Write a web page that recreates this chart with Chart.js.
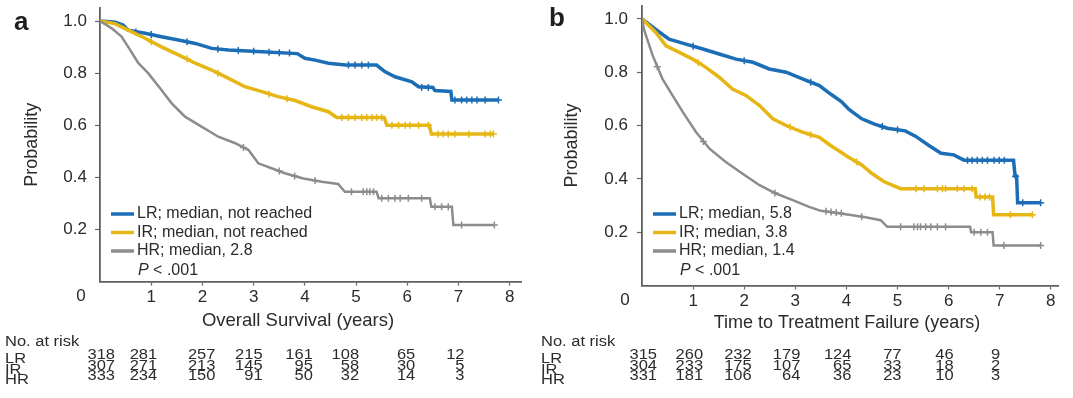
<!DOCTYPE html>
<html lang="en">
<head>
<meta charset="UTF-8">
<title>Kaplan-Meier by risk group</title>
<script src="https://cdn.jsdelivr.net/npm/chart.js@4.4.0/dist/chart.umd.min.js"></script>
<style>
  html, body { margin: 0; padding: 0; background: #fff; }
  .wrap { position: relative; width: 1073px; height: 398px; overflow: hidden; }
  canvas { position: absolute; top: 0; }
  #os { left: 0; }
  #ttf { left: 536px; }
</style>
</head>
<body>
<div class="wrap">
  <canvas id="os" width="536" height="398"></canvas>
  <canvas id="ttf" width="537" height="398"></canvas>
</div>
<script>
// ---- data: [years, probability] ----
const groups = ['LR', 'IR', 'HR'];
const xTicks = [1, 2, 3, 4, 5, 6, 7, 8];
const yTicks = [0.2, 0.4, 0.6, 0.8, 1.0];
const riskTimes = [0, 1, 2, 3, 4, 5, 6, 7];

// a: overall survival
const osLabels = ['LR; median, not reached', 'IR; median, not reached', 'HR; median, 2.8'];
const osLR = [[0,1],[0.3,0.995],[0.45,0.985],[0.55,0.965],[0.88,0.953],[1.2,0.94],[1.53,0.927],[1.86,0.914],[2.18,0.895],[2.51,0.889],[3.16,0.882],[3.85,0.875],[4.0,0.857],[4.2,0.85],[4.46,0.838],[4.79,0.831],[5.4,0.831],[5.56,0.806],[5.76,0.786],[6.09,0.767],[6.22,0.748],[6.5,0.745],[6.54,0.733],[6.85,0.73],[6.87,0.697],[7.78,0.697]];
const osIR = [[0,1],[0.29,0.99],[0.55,0.965],[0.88,0.934],[1.2,0.901],[1.53,0.87],[1.86,0.838],[2.18,0.812],[2.51,0.78],[2.83,0.748],[3.16,0.729],[3.48,0.71],[3.81,0.695],[4.13,0.671],[4.46,0.652],[4.62,0.63],[5.55,0.63],[5.6,0.6],[6.43,0.6],[6.47,0.566],[7.68,0.566]];
const osHR = [[0,1],[0.23,0.972],[0.42,0.94],[0.55,0.901],[0.75,0.838],[0.94,0.8],[1.2,0.735],[1.4,0.684],[1.66,0.633],[1.99,0.594],[2.31,0.556],[2.64,0.531],[2.9,0.505],[3.09,0.454],[3.35,0.435],[3.61,0.416],[3.97,0.396],[4.33,0.383],[4.65,0.375],[4.78,0.345],[5.4,0.345],[5.44,0.32],[6.44,0.32],[6.47,0.287],[6.87,0.287],[6.9,0.217],[7.7,0.217]];
const osLRcens = [[0.7,0.958],[1.0,0.948],[1.7,0.92],[2.3,0.893],[2.7,0.887],[3.0,0.884],[3.3,0.88],[3.5,0.878],[3.7,0.877],[4.85,0.831],[4.98,0.831],[5.11,0.831],[5.24,0.831],[6.28,0.745],[6.41,0.745],[6.93,0.697],[7.06,0.697],[7.16,0.697],[7.26,0.697],[7.36,0.697],[7.52,0.697],[7.78,0.697]];
const osIRcens = [[1.0,0.92],[1.7,0.855],[2.3,0.8],[3.3,0.72],[3.65,0.702],[4.72,0.63],[4.85,0.63],[4.98,0.63],[5.11,0.63],[5.21,0.63],[5.31,0.63],[5.4,0.63],[5.5,0.63],[5.7,0.6],[5.83,0.6],[5.96,0.6],[6.05,0.6],[6.22,0.6],[6.41,0.6],[6.6,0.566],[6.7,0.566],[6.8,0.566],[6.93,0.566],[7.2,0.566],[7.52,0.566],[7.62,0.566],[7.68,0.566]];
const osHRcens = [[2.8,0.515],[3.5,0.424],[3.8,0.405],[4.2,0.388],[4.91,0.345],[5.14,0.345],[5.21,0.345],[5.27,0.345],[5.34,0.345],[5.5,0.32],[5.63,0.32],[5.76,0.32],[5.86,0.32],[6.02,0.32],[6.28,0.32],[6.54,0.287],[6.67,0.287],[6.8,0.287],[7.06,0.217],[7.7,0.217]];
const osRisk = [[318,281,257,215,161,108,65,12],[307,271,213,145,95,58,30,5],[333,234,150,91,50,32,14,3]];

// b: time to treatment failure
const ttfLabels = ['LR; median, 5.8', 'IR; median, 3.8', 'HR; median, 1.4'];
const ttfLR = [[0,1],[0.27,0.96],[0.53,0.924],[0.86,0.905],[1.19,0.887],[1.51,0.868],[1.84,0.849],[2.17,0.837],[2.49,0.812],[2.82,0.8],[3.14,0.775],[3.47,0.75],[3.69,0.718],[3.9,0.69],[4.05,0.66],[4.3,0.625],[4.55,0.605],[4.8,0.59],[5.15,0.58],[5.35,0.56],[5.6,0.527],[5.85,0.496],[6.1,0.49],[6.3,0.47],[7.27,0.47],[7.3,0.41],[7.33,0.41],[7.35,0.31],[7.8,0.31]];
const ttfIR = [[0,1],[0.27,0.949],[0.47,0.899],[0.73,0.874],[0.99,0.849],[1.25,0.818],[1.51,0.781],[1.77,0.737],[2.04,0.712],[2.3,0.675],[2.56,0.625],[2.82,0.6],[3.14,0.575],[3.47,0.556],[3.69,0.525],[3.85,0.505],[4.05,0.48],[4.3,0.452],[4.5,0.42],[4.73,0.39],[5.06,0.363],[6.52,0.363],[6.54,0.332],[6.86,0.332],[6.88,0.265],[7.64,0.265]];
const ttfHR = [[0,1],[0.04,0.96],[0.08,0.936],[0.21,0.862],[0.4,0.775],[0.6,0.712],[0.8,0.65],[1.06,0.575],[1.32,0.513],[1.64,0.463],[1.97,0.419],[2.3,0.376],[2.62,0.345],[2.95,0.32],[3.27,0.295],[3.5,0.28],[4.05,0.265],[4.35,0.257],[4.67,0.245],[4.8,0.22],[6.42,0.22],[6.44,0.2],[6.86,0.2],[6.88,0.15],[7.8,0.15]];
const ttfLRcens = [[1.0,0.897],[2.0,0.843],[3.3,0.762],[4.7,0.596],[5.0,0.584],[6.37,0.47],[6.46,0.47],[6.56,0.47],[6.66,0.47],[6.76,0.47],[6.89,0.47],[6.99,0.47],[7.09,0.47],[7.31,0.41],[7.45,0.31],[7.8,0.31]];
const ttfIRcens = [[1.1,0.836],[2.9,0.594],[3.3,0.565],[4.2,0.463],[5.36,0.363],[5.52,0.363],[5.78,0.363],[5.88,0.363],[5.94,0.363],[6.17,0.363],[6.3,0.363],[6.46,0.363],[6.61,0.332],[6.71,0.332],[6.8,0.332],[7.21,0.265],[7.64,0.265]];
const ttfHRcens = [[0.3,0.82],[1.2,0.54],[2.6,0.347],[3.6,0.278],[3.7,0.276],[3.8,0.274],[3.9,0.271],[4.3,0.258],[5.06,0.22],[5.32,0.22],[5.39,0.22],[5.45,0.22],[5.55,0.22],[5.65,0.22],[5.78,0.22],[5.94,0.22],[6.5,0.2],[6.63,0.2],[6.76,0.2],[7.08,0.15],[7.8,0.15]];
const ttfRisk = [[315,260,232,179,124,77,46,9],[304,233,175,107,65,33,18,2],[331,181,106,64,36,23,10,3]];

// ---- styling ----
const colors = ['#1b6db5', '#e6b614', '#8c8c8c'];
const widths = [3.5, 3.5, 2.5];
const FONT = '"Liberation Sans", Arial, Helvetica, sans-serif';
Chart.defaults.font.family = FONT;
Chart.defaults.color = '#2b2b2b';

const toXY = arr => arr.map(p => ({ x: p[0], y: p[1] }));

// legend, P value, panel letter, origin "0", x title and number-at-risk table
const panelText = {
  id: 'panelText',
  afterDraw(chart, args, o) {
    const ctx = chart.ctx;
    const xs = chart.scales.x, ys = chart.scales.y;
    const x0 = xs.getPixelForValue(0);
    const yb = ys.getPixelForValue(0);
    ctx.save();
    ctx.fillStyle = '#1e1e1e';
    ctx.font = 'bold 26px ' + FONT;
    ctx.textAlign = 'left';
    ctx.textBaseline = 'alphabetic';
    ctx.fillText(o.letter, o.letterX, o.letterY);

    ctx.font = '17px ' + FONT;
    ctx.fillStyle = '#2b2b2b';
    ctx.textAlign = 'center';
    ctx.textBaseline = 'middle';
    ctx.fillText('0', x0 - o.zeroShift, yb + 14.5);

    // x axis title
    ctx.font = o.titleSize + 'px ' + FONT;
    ctx.fillText(o.xTitle, x0 + o.titleDx, yb + o.titleDy);

    // legend
    ctx.font = '16px ' + FONT;
    ctx.textAlign = 'left';
    o.labels.forEach((lab, i) => {
      const yy = o.legendY + i * 18.5;
      ctx.strokeStyle = colors[i];
      ctx.lineWidth = 3.5;
      ctx.beginPath();
      ctx.moveTo(x0 + 11, yy);
      ctx.lineTo(x0 + 34, yy);
      ctx.stroke();
      ctx.fillStyle = '#2b2b2b';
      ctx.fillText(lab, x0 + 37, yy);
    });
    const py = o.legendY + 3 * 18.5 + 1;
    ctx.font = 'italic 16px ' + FONT;
    ctx.fillText('P', x0 + 38, py);
    const pw = ctx.measureText('P').width;
    ctx.font = '16px ' + FONT;
    ctx.fillText(' < .001', x0 + 38 + pw, py);

    // number at risk
    ctx.font = '16.5px ' + FONT;
    const squash = (txt, x, y, align) => {
      ctx.save();
      ctx.translate(x, y);
      ctx.scale(1, 0.85);
      ctx.textAlign = align;
      ctx.fillText(txt, 0, 0);
      ctx.restore();
    };
    squash('No. at risk', 5, 342, 'left');
    groups.forEach((g, r) => {
      squash(g, 5, 359.5 + r * 10.3, 'left');
      o.risk[r].forEach((n, c) => {
        const xr = xs.getPixelForValue(riskTimes[c]) + o.riskNudge[c];
        squash(String(n), xr, 355.3 + r * 10.4, 'right');
      });
    });
    ctx.restore();
  }
};

function makePanel(id, p) {
  const datasets = [];
  p.curves.forEach((c, i) => datasets.push({
    label: p.labels[i], data: toXY(c), showLine: true,
    borderColor: colors[i], borderWidth: widths[i], pointRadius: 0,
    borderJoinStyle: 'miter', tension: 0, order: 3 - i
  }));
  p.cens.forEach((c, i) => datasets.push({
    data: toXY(c), showLine: false, pointStyle: 'cross',
    pointRadius: 3.5, borderColor: colors[i], borderWidth: 1.5, order: 3 - i
  }));
  return new Chart(document.getElementById(id), {
    type: 'scatter',
    data: { datasets },
    options: {
      responsive: false,
      animation: false,
      devicePixelRatio: 1,
      events: [],
      layout: { padding: p.pad },
      plugins: {
        legend: { display: false },
        tooltip: { enabled: false },
        panelText: p.text
      },
      scales: {
        x: {
          type: 'linear', min: 0, max: p.xMax,
          afterBuildTicks: s => { s.ticks = xTicks.map(v => ({ value: v })); },
          afterFit: s => { s.height = 50; s.paddingLeft = 0; s.paddingRight = 0; },
          ticks: { font: { size: 17 }, padding: 2, maxRotation: 0, color: '#2b2b2b' },
          grid: { drawOnChartArea: false, tickLength: 4, tickColor: '#666', tickWidth: 1.2 },
          border: { color: '#5f5f5f', width: 1.8 },
          title: { display: false }
        },
        y: {
          type: 'linear', min: 0, max: 1.05,
          afterBuildTicks: s => { s.ticks = yTicks.map(v => ({ value: v })); },
          afterFit: s => { s.width = p.yWidth; s.paddingTop = 0; s.paddingBottom = 0; },
          ticks: { font: { size: 17 }, padding: p.yTickPad, color: '#2b2b2b', callback: v => v.toFixed(1) },
          grid: { drawOnChartArea: false, tickLength: 5, tickColor: '#666', tickWidth: 1.2 },
          border: { color: '#5f5f5f', width: 1.8 },
          title: { display: true, text: 'Probability', font: { size: 18 }, color: '#2b2b2b', padding: { top: p.yTitlePad, bottom: 0 } }
        }
      }
    },
    plugins: [panelText]
  });
}

makePanel('os', {
  curves: [osLR, osIR, osHR], cens: [osLRcens, osIRcens, osHRcens], labels: osLabels,
  xMax: 8.22, yWidth: 100, yTickPad: 8, yTitlePad: 21,
  pad: { left: 0, top: 8, right: 15, bottom: 66.4 },
  text: { letter: 'a', letterX: 14, letterY: 30, zeroShift: 19, labels: osLabels, legendY: 214,
          xTitle: 'Overall Survival (years)', titleSize: 18.5, titleDx: 198, titleDy: 39,
          risk: osRisk, riskNudge: [15, 6, 13, 9, 8, 3, 8, 6] }
});

makePanel('ttf', {
  curves: [ttfLR, ttfIR, ttfHR], cens: [ttfLRcens, ttfIRcens, ttfHRcens], labels: ttfLabels,
  xMax: 8.14, yWidth: 106, yTickPad: 9, yTitlePad: 25,
  pad: { left: 0, top: 4.6, right: 15, bottom: 62.5 },
  text: { letter: 'b', letterX: 13, letterY: 26, zeroShift: 17, labels: ttfLabels, legendY: 214,
          xTitle: 'Time to Treatment Failure (years)', titleSize: 18, titleDx: 205, titleDy: 38,
          risk: ttfRisk, riskNudge: [15, 10, 7.5, 5, 5, 4, 5, 0.5] }
});
</script>
</body>
</html>
